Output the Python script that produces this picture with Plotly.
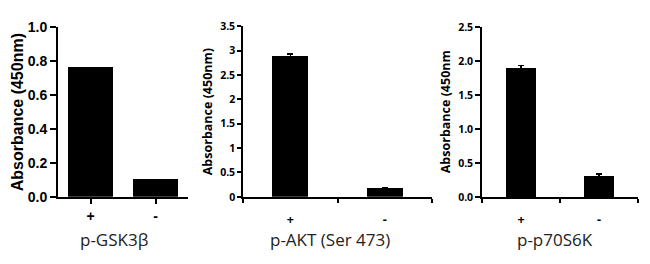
import plotly.graph_objects as go

# ---- data ----
cats = ["+", "-"]
gsk_vals = [0.765, 0.105]
akt_vals = [2.88, 0.17]
akt_err = [0.05, 0.02]
p70_vals = [1.90, 0.31]
p70_err = [0.04, 0.03]
titles = ["p-GSK3β", "p-AKT (Ser 473)", "p-p70S6K"]
ytitles = ["Absorbance (450nm)", "Absorbance (450nm)", "Absorbance (450nm"]
xpos = [0.5, 1.5]

W, H = 650, 264
def px(x):
    return x / W
def py(y):
    return (H - y) / H

fig = go.Figure()
fig.add_trace(go.Bar(x=xpos, y=gsk_vals, width=0.69, marker=dict(color="black", line=dict(width=0)),
                     xaxis="x", yaxis="y"))
fig.add_trace(go.Bar(x=xpos, y=akt_vals, width=0.38, marker=dict(color="black", line=dict(width=0)),
                     error_y=dict(type="data", array=akt_err, color="black", thickness=1.5, width=3),
                     xaxis="x2", yaxis="y2"))
fig.add_trace(go.Bar(x=xpos, y=p70_vals, width=0.385, marker=dict(color="black", line=dict(width=0)),
                     error_y=dict(type="data", array=p70_err, color="black", thickness=1.5, width=3),
                     xaxis="x3", yaxis="y3"))

f1 = dict(family="Liberation Sans", size=14, color="black", weight="bold")
f2 = dict(family="Open Sans", size=10.5, color="black", weight="bold")
f2x = dict(family="Open Sans", size=12.5, color="black", weight="bold")

common_x = dict(range=[0, 2], showgrid=False, zeroline=False, showline=True, linecolor="black",
                tickmode="array", tickvals=xpos, ticktext=cats, fixedrange=True)
common_y = dict(showgrid=False, zeroline=False, showline=True, linecolor="black",
                ticks="outside", tickcolor="black", fixedrange=True)

fig.update_layout(
    width=W, height=H, margin=dict(l=0, r=0, t=0, b=0),
    paper_bgcolor="white", plot_bgcolor="white", showlegend=False, bargap=0,
    xaxis=dict(common_x, domain=[px(58), px(188)], anchor="y", linewidth=2,
               ticks="outside", ticklen=5, tickwidth=2, tickcolor="black", tickfont=f1),
    yaxis=dict(common_y, domain=[py(201), py(20)], anchor="x", range=[0, 1.0], dtick=0.2,
               tickformat=".1f", linewidth=2, ticklen=6, tickwidth=2, tickfont=f1),
    xaxis2=dict(common_x, domain=[px(243), px(432)], anchor="y2", linewidth=1.5,
                ticks="", ticklen=0, tickfont=f2x, ticklabelstandoff=10,
                minor=dict(tickmode="array", tickvals=[0, 1, 2], ticks="outside", ticklen=4,
                           tickwidth=1.5, tickcolor="black")),
    yaxis2=dict(common_y, domain=[py(201), py(19.3)], anchor="x2", range=[0, 3.5], dtick=0.5,
                linewidth=1.5, ticklen=4, tickwidth=1.5, tickfont=f2),
    xaxis3=dict(common_x, domain=[px(482), px(638)], anchor="y3", linewidth=1.5,
                ticks="", ticklen=0, tickfont=f2x, ticklabelstandoff=10,
                minor=dict(tickmode="array", tickvals=[0, 1, 2], ticks="outside", ticklen=4,
                           tickwidth=1.5, tickcolor="black")),
    yaxis3=dict(common_y, domain=[py(201.3), py(20.7)], anchor="x3", range=[0, 2.5], dtick=0.5,
                tickformat=".1f", linewidth=1.5, ticklen=5, tickwidth=1.5, tickfont=f2),
)

# axis titles
ytx = [17, 207, 445]
ytfont = [dict(family="Liberation Sans", size=16, color="black", weight="bold"),
          dict(family="Open Sans", size=12.5, color="black", weight="bold"),
          dict(family="Open Sans", size=12.5, color="black", weight="bold")]
for t, x, f in zip(ytitles, ytx, ytfont):
    fig.add_annotation(text=t, x=px(x), y=py(111), xref="paper", yref="paper",
                       textangle=-90, showarrow=False, xanchor="center", yanchor="middle", font=f)

# panel titles
tx = [114, 329.5, 555]
for t, x in zip(titles, tx):
    fig.add_annotation(text=t, x=px(x), y=py(246), xref="paper", yref="paper",
                       showarrow=False, xanchor="center", yanchor="middle",
                       font=dict(family="Open Sans", size=17, color="#222"))

fig.write_html("out.html")
